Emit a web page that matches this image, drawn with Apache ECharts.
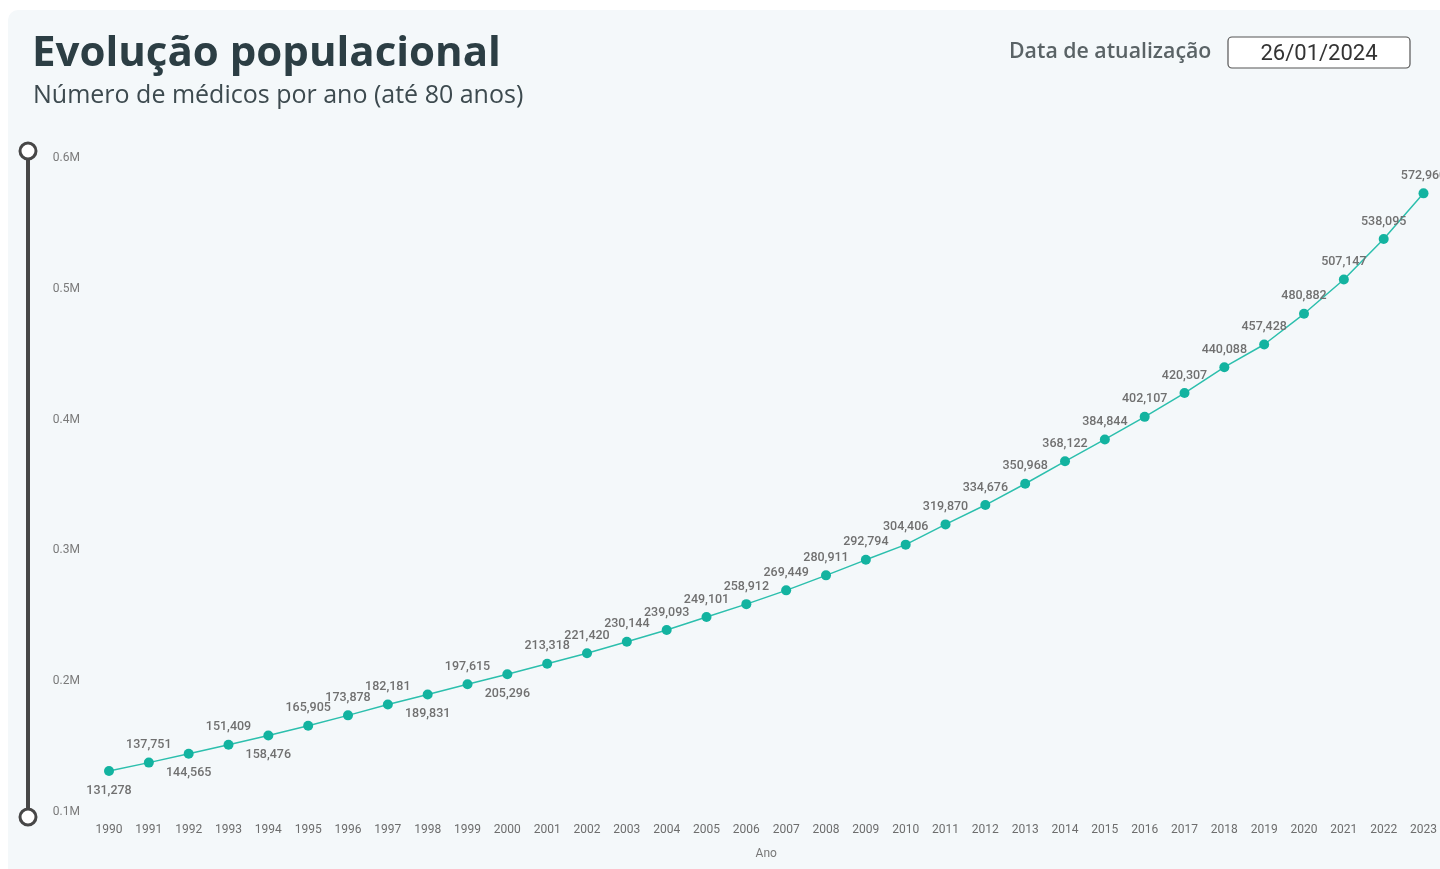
<!DOCTYPE html>
<html>
<head>
<meta charset="utf-8">
<script src="https://cdn.jsdelivr.net/npm/echarts@6/dist/echarts.min.js"></script>
<style>
	html, body { margin: 0; padding: 0; background: #ffffff; }
	#main { width: 1440px; height: 869px; }
</style>
</head>
<body>
<div id="main"></div>
<script>
// dados
var anos = ['1990','1991','1992','1993','1994','1995','1996','1997','1998','1999',
	'2000','2001','2002','2003','2004','2005','2006','2007','2008','2009',
	'2010','2011','2012','2013','2014','2015','2016','2017','2018','2019',
	'2020','2021','2022','2023'];
var medicos = [131278, 137751, 144565, 151409, 158476, 165905, 173878, 182181, 189831, 197615,
	205296, 213318, 221420, 230144, 239093, 249101, 258912, 269449, 280911, 292794,
	304406, 319870, 334676, 350968, 368122, 384844, 402107, 420307, 440088, 457428,
	480882, 507147, 538095, 572960];
var yTicks = [100000, 200000, 300000, 400000, 500000, 600000];

// anos com rótulo abaixo do ponto
var rotuloAbaixo = ['1990', '1992', '1994', '1998', '2000'];

var chart = echarts.init(document.getElementById('main'));

function fmt(v) {
	return v.toString().replace(/\B(?=(\d{3})+(?!\d))/g, ',');
}

var pontos = medicos.map(function(v, i) {
	var abaixo = rotuloAbaixo.indexOf(anos[i]) >= 0;
	return {
		value: v,
		label: { position: abaixo ? 'bottom' : 'top', distance: abaixo ? 8 : 6 }
	};
});

var option = {
	backgroundColor: 'transparent',
	animation: false,
	textStyle: { fontFamily: 'Roboto, sans-serif' },
	title: [
		{
			text: 'Evolução populacional',
			left: 32, top: 33, padding: 0,
			textStyle: { fontFamily: '"Open Sans", sans-serif', fontSize: 42, fontWeight: 'bold', color: '#2c3e44' }
		},
		{
			text: 'Número de médicos por ano (até 80 anos)',
			left: 33, top: 83, padding: 0,
			textStyle: { fontFamily: '"Open Sans", sans-serif', fontSize: 25, fontWeight: 'normal', color: '#3d4a4f' }
		},
		{
			text: 'Data de atualização',
			left: 1009, top: 41, padding: 0,
			textStyle: { fontFamily: '"Open Sans", sans-serif', fontSize: 21.3, fontWeight: 600, color: '#5a6366' }
		}
	],
	graphic: [
		{
			type: 'rect', z: -10, silent: true,
			shape: { x: 8, y: 10, width: 1440, height: 870, r: [10, 0, 0, 0] },
			style: { fill: '#f4f8fa' }
		},
		{
			type: 'rect', z: 10,
			shape: { x: 1228, y: 37, width: 182, height: 31, r: 4 },
			style: { fill: '#ffffff', stroke: '#555555', lineWidth: 1.2 }
		},
		{
			type: 'text', z: 11,
			x: 1319, y: 54,
			style: {
				text: '26/01/2024', fill: '#333333', font: '22px Roboto, sans-serif',
				align: 'center', verticalAlign: 'middle'
			}
		},
		{
			type: 'line', z: 10,
			shape: { x1: 28, y1: 160, x2: 28, y2: 809 },
			style: { stroke: '#474747', lineWidth: 4 }
		},
		{
			type: 'circle', z: 11,
			shape: { cx: 28, cy: 151, r: 8 },
			style: { fill: '#ffffff', stroke: '#474747', lineWidth: 3 }
		},
		{
			type: 'circle', z: 11,
			shape: { cx: 28, cy: 817, r: 8 },
			style: { fill: '#ffffff', stroke: '#474747', lineWidth: 3 }
		}
	],
	grid: {
		left: 109,
		right: 14,
		top: 158,
		bottom: 57,
		containLabel: false
	},
	xAxis: {
		type: 'category',
		boundaryGap: false,
		data: anos,
		name: 'Ano',
		nameLocation: 'middle',
		nameGap: 36,
		nameTextStyle: { color: '#777777', fontSize: 12 },
		axisLine: { show: false },
		axisTick: { show: false },
		axisLabel: { color: '#6d6d6d', fontSize: 12, margin: 12, interval: 0 }
	},
	yAxis: {
		type: 'value',
		min: yTicks[0],
		max: yTicks[yTicks.length - 1],
		interval: 100000,
		splitLine: { show: false },
		axisLine: { show: false },
		axisTick: { show: false },
		axisLabel: {
			color: '#7a7a7a', fontSize: 12, margin: 29,
			formatter: function(v) { return (v / 1000000).toFixed(1) + 'M'; }
		}
	},
	series: [
		{
			name: 'Médicos',
			type: 'line',
			data: pontos,
			symbol: 'circle',
			symbolSize: 10,
			itemStyle: { color: '#13b3a0' },
			lineStyle: { color: '#2cbfad', width: 1.5 },
			label: {
				show: true,
				color: '#707070',
				fontSize: 12.5,
				fontWeight: 500,
				formatter: function(p) { return fmt(p.value); }
			}
		}
	]
};

chart.setOption(option);
</script>
</body>
</html>
